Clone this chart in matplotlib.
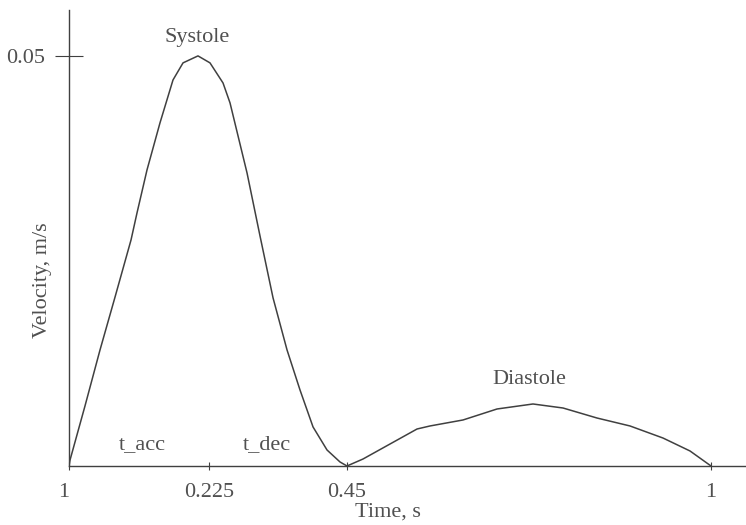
import matplotlib
matplotlib.use("Agg")
import matplotlib.pyplot as plt

# Data
time = [0.0, 0.0016, 0.0249, 0.0483, 0.0717, 0.0966, 0.1059, 0.1215, 0.1417, 0.1620, 0.1776,
        0.2009, 0.2196, 0.2399, 0.2508, 0.2773, 0.2975, 0.3178, 0.3396, 0.3598, 0.3801,
        0.4019, 0.4221, 0.4330, 0.4579, 0.5000, 0.5421, 0.5623, 0.6137, 0.6667, 0.7227,
        0.7695, 0.8224, 0.8738, 0.9252, 0.9673, 1.0]
velocity = [0.0, 0.00073, 0.00732, 0.01415, 0.0206, 0.02756, 0.03085, 0.0361, 0.04183, 0.04707, 0.04915,
            0.0500, 0.04915, 0.0467, 0.04427, 0.03573, 0.02805, 0.0205, 0.01415, 0.00927, 0.00476,
            0.00195, 0.00049, 0.0, 0.00085, 0.00268, 0.00451, 0.00488, 0.00561, 0.00695, 0.00756,
            0.00707, 0.00585, 0.00488, 0.00341, 0.00183, 0.0]

xtick_pos = [0.0, 0.218, 0.433, 1.0]
xtick_labels = ["1", "0.225", "0.45", "1"]
ytick_pos = [0.05]
ytick_labels = ["0.05"]

annotations = [("Systole", 0.199, 0.0522), ("Diastole", 0.7165, 0.0105),
               ("t_acc", 0.114, 0.0026), ("t_dec", 0.3084, 0.0026)]

plt.rcParams['font.family'] = ['Liberation Serif', 'DejaVu Serif']
txt_color = "#505050"
line_color = "#404040"
fs = 16

fig = plt.figure(figsize=(7.46, 5.25), dpi=100)
ax = fig.add_axes([0.0925, 0.1124, 0.9075, 0.8686])
ax.plot(time, velocity, color=line_color, lw=1.1)

ax.set_xlim(0, 1.0545)
ax.set_ylim(0, 0.0556)

for s in ["top", "right"]:
    ax.spines[s].set_visible(False)
for s in ["left", "bottom"]:
    ax.spines[s].set_color(line_color)
    ax.spines[s].set_linewidth(1.0)

ax.set_xticks(xtick_pos)
ax.set_xticklabels(xtick_labels)
ax.set_yticks(ytick_pos)
ax.set_yticklabels(ytick_labels)
ax.tick_params(axis='x', direction='inout', length=6, width=0.8, color=line_color,
               labelsize=fs, labelcolor=txt_color, pad=9)
ax.tick_params(axis='y', direction='inout', length=20, width=0.8, color=line_color,
               labelsize=fs, labelcolor=txt_color, pad=7)
ax.get_xticklabels()[0].set_horizontalalignment('right')

for label, x, y in annotations:
    ax.text(x, y, label, ha='center', va='center', fontsize=fs, color=txt_color)

fig.text(388 / 746, 1 - 512 / 525, "Time, s", ha='center', va='center', fontsize=fs, color=txt_color)
fig.text(43 / 746, 1 - 280 / 525, "Velocity, m/s", ha='center', va='center', rotation=90,
         fontsize=fs, color=txt_color)

fig.savefig("out.png", dpi=100)
